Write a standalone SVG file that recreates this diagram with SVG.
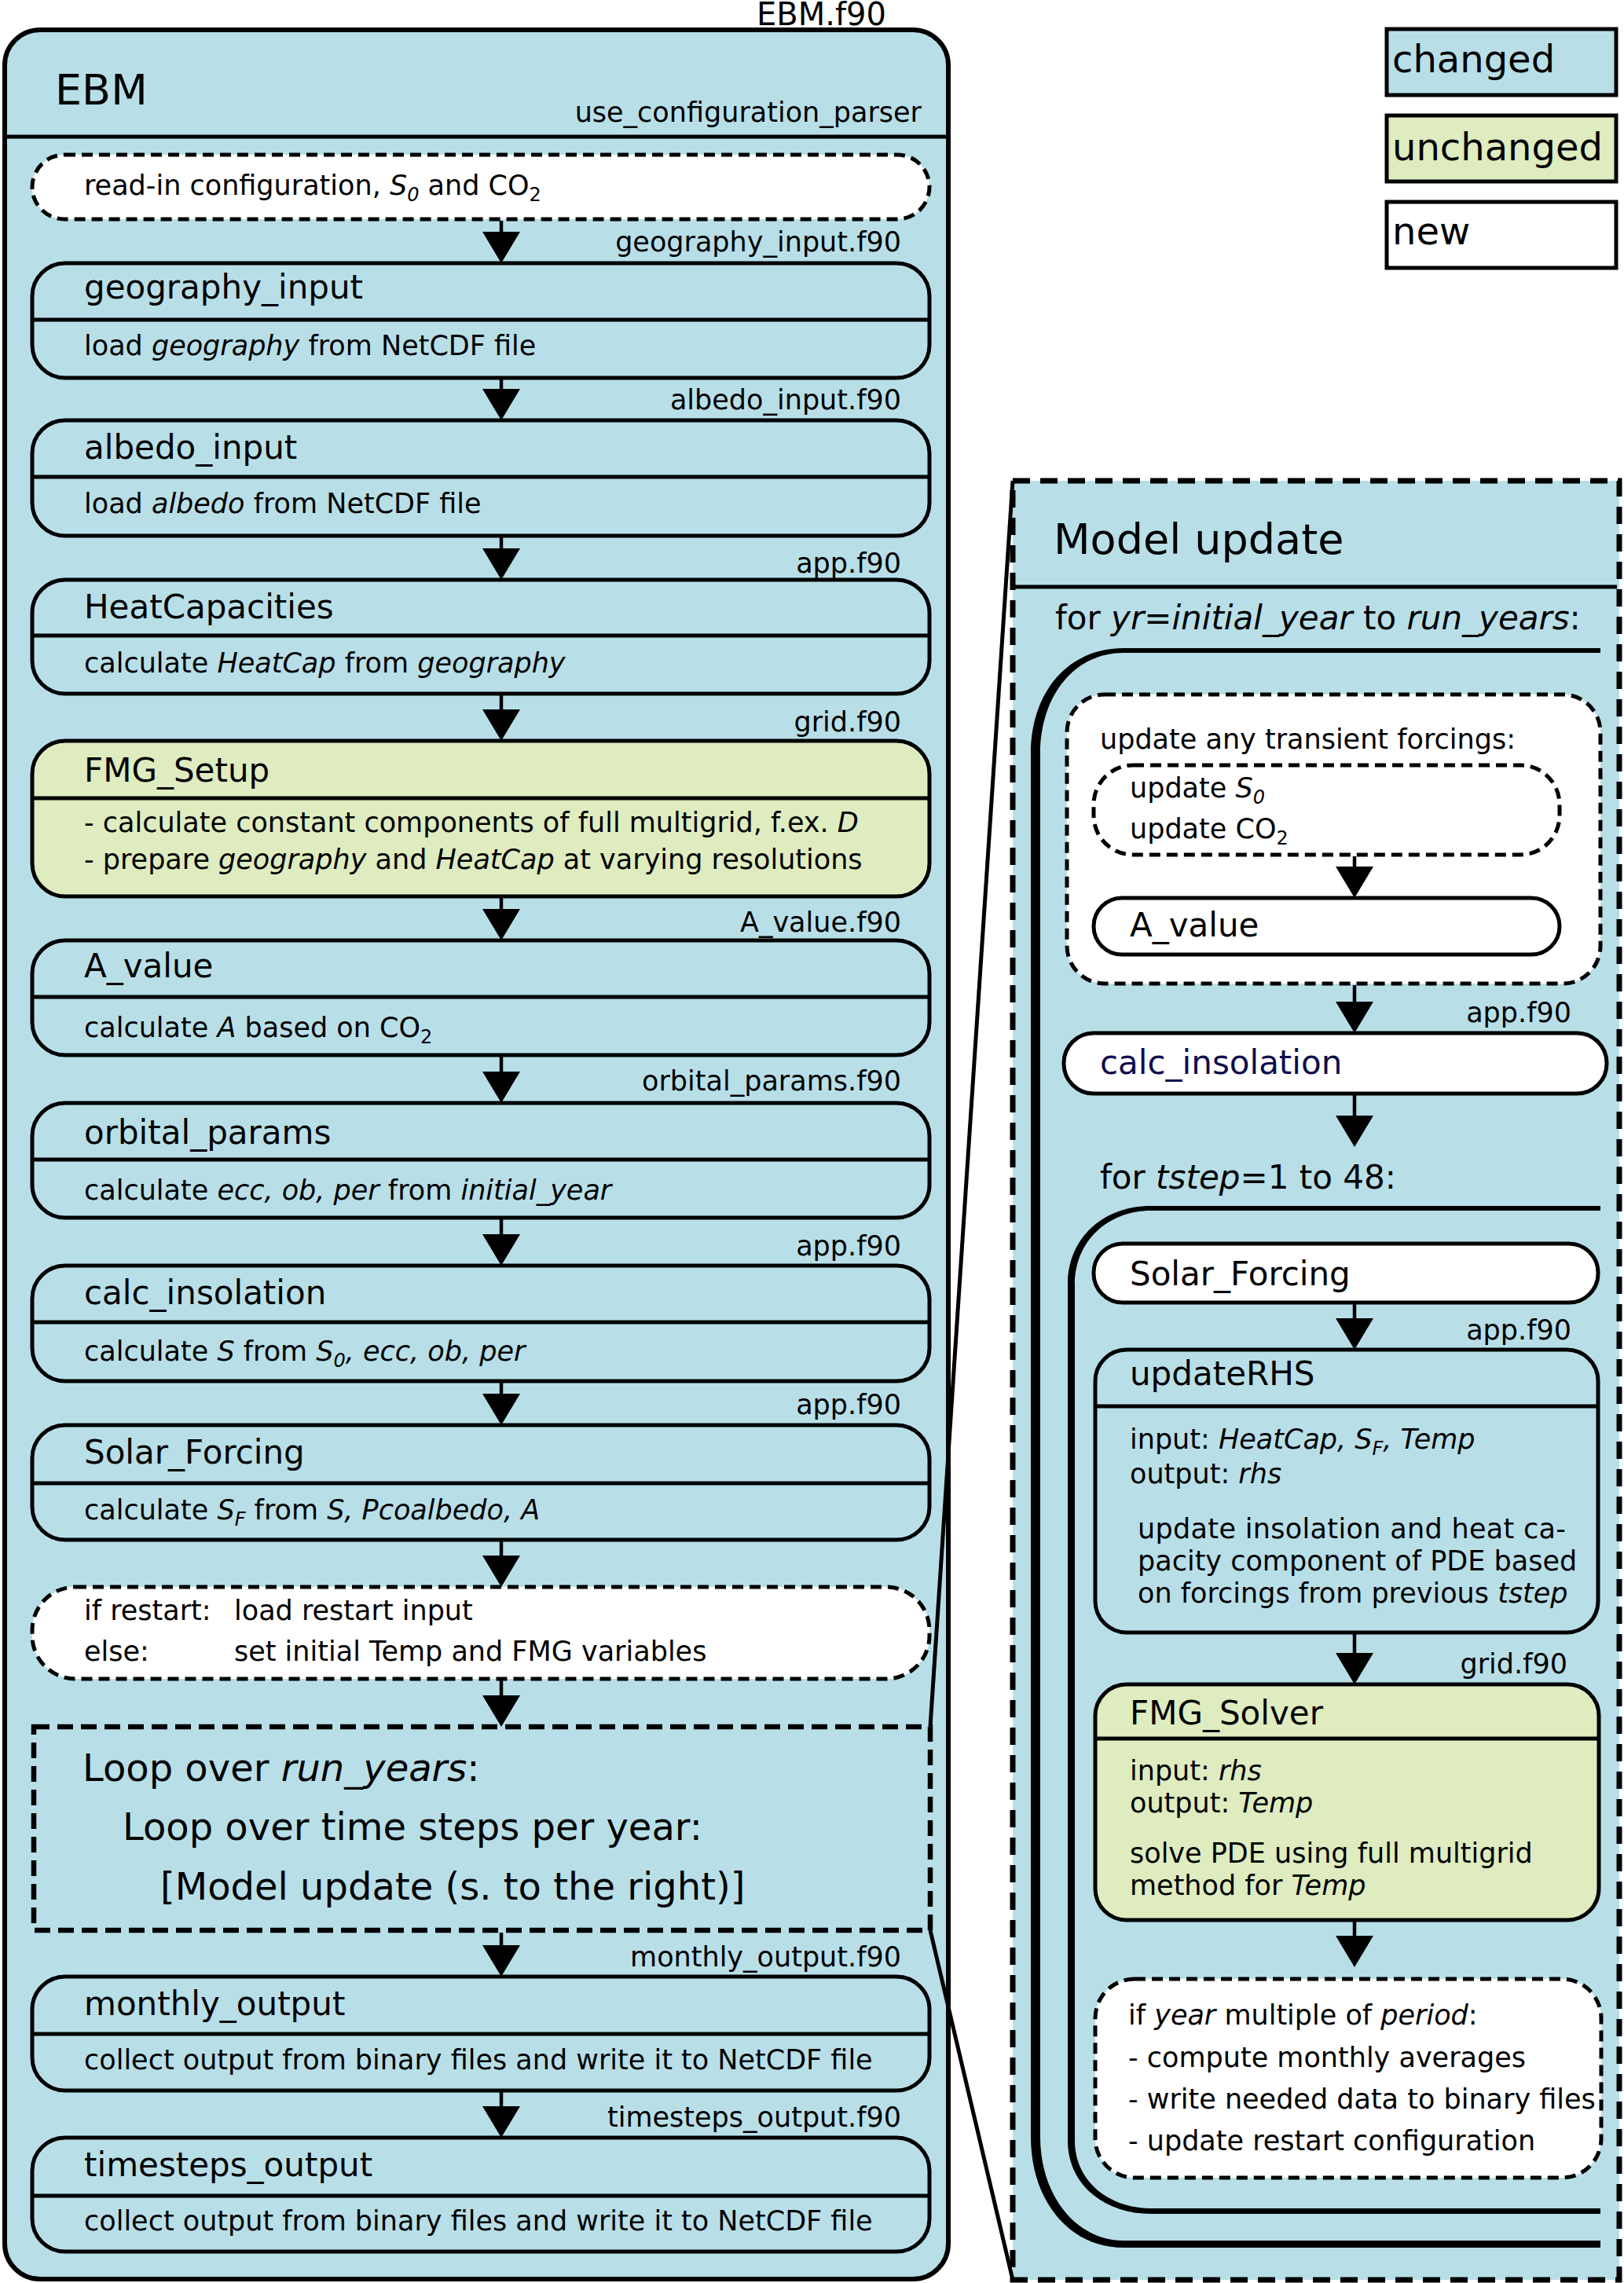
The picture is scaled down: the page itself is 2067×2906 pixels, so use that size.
<svg xmlns="http://www.w3.org/2000/svg" width="2067" height="2906" viewBox="0 0 2067 2906">
<style>
text{font-family:"DejaVu Sans","Liberation Sans",sans-serif;fill:#000}
.t{font-size:42px}
.b{font-size:35px}
.f{font-size:35px;text-anchor:end}
.big{font-size:54px}
.lp{font-size:48px}
.leg{font-size:48px}
.i{font-style:italic}
.s{font-size:24px}
.blue{fill:#b8dfe8}
.green{fill:#deecc0}
.white{fill:#fff}
.box{stroke:#000;stroke-width:5}
.dash{stroke:#000;stroke-width:5;stroke-dasharray:14 8}
.div{stroke:#000;stroke-width:5}
.con{stroke:#000;stroke-width:5;fill:none}
</style>
<defs>
<marker id="ah" markerUnits="userSpaceOnUse" markerWidth="40" markerHeight="48" refX="30" refY="24" orient="auto">
<path d="M0,0 L40,24 L0,48 Z" fill="#000"/>
</marker>
</defs>
<rect width="2067" height="2906" fill="#fff"/>

<!-- Legend -->
<g id="legend">
<rect x="1765" y="37" width="292" height="84" class="blue box"/>
<text x="1772" y="92" class="leg">changed</text>
<rect x="1765" y="147" width="292" height="84" class="green box"/>
<text x="1772" y="204" class="leg">unchanged</text>
<rect x="1765" y="257" width="292" height="84" class="white box"/>
<text x="1772" y="311" class="leg">new</text>
</g>

<!-- EBM main -->
<g id="ebm">
<rect x="6" y="38" width="1201" height="2863" rx="45" class="blue" stroke="#000" stroke-width="6"/>
<line x1="6" y1="174" x2="1207" y2="174" class="div"/>
<text x="70" y="133" class="big">EBM</text>
<text x="1128" y="32" style="font-size:40px;text-anchor:end">EBM.f90</text>
<text x="1173" y="155" class="f">use_configuration_parser</text>
</g>

<!-- Model update panel background -->
<g id="model_update_bg">
<rect x="1289" y="612" width="772" height="2290" class="blue"/>
</g>

<!-- Left nodes -->
<g id="readin">
<rect x="41" y="197" width="1142" height="82" rx="41" class="white dash"/>
<text x="107" y="248" class="b">read-in configuration, <tspan class="i">S</tspan><tspan class="s i" dy="8">0</tspan><tspan dy="-8"> and CO</tspan><tspan class="s" dy="8">2</tspan></text>
</g>

<g id="geography_input">
<text x="1147" y="320" class="f">geography_input.f90</text>
<rect x="41" y="335" width="1142" height="146" rx="42" class="blue box"/>
<line x1="41" y1="407" x2="1183" y2="407" class="div"/>
<text x="107" y="380" class="t">geography_input</text>
<text x="107" y="452" class="b">load <tspan class="i">geography</tspan> from NetCDF file</text>
</g>

<g id="albedo_input">
<text x="1147" y="521" class="f">albedo_input.f90</text>
<rect x="41" y="535" width="1142" height="147" rx="42" class="blue box"/>
<line x1="41" y1="607" x2="1183" y2="607" class="div"/>
<text x="107" y="584" class="t">albedo_input</text>
<text x="107" y="653" class="b">load <tspan class="i">albedo</tspan> from NetCDF file</text>
</g>

<g id="heatcapacities">
<text x="1147" y="729" class="f">app.f90</text>
<rect x="41" y="738" width="1142" height="145" rx="42" class="blue box"/>
<line x1="41" y1="809" x2="1183" y2="809" class="div"/>
<text x="107" y="787" class="t">HeatCapacities</text>
<text x="107" y="856" class="b">calculate <tspan class="i">HeatCap</tspan> from <tspan class="i">geography</tspan></text>
</g>

<g id="fmg_setup">
<text x="1147" y="931" class="f">grid.f90</text>
<rect x="41" y="943" width="1142" height="198" rx="42" class="green box"/>
<line x1="41" y1="1016" x2="1183" y2="1016" class="div"/>
<text x="107" y="995" class="t">FMG_Setup</text>
<text x="107" y="1059" class="b">- calculate constant components of full multigrid, f.ex. <tspan class="i">D</tspan></text>
<text x="107" y="1106" class="b">- prepare <tspan class="i">geography</tspan> and <tspan class="i">HeatCap</tspan> at varying resolutions</text>
</g>

<g id="a_value">
<text x="1147" y="1186" class="f">A_value.f90</text>
<rect x="41" y="1197" width="1142" height="146" rx="42" class="blue box"/>
<line x1="41" y1="1269" x2="1183" y2="1269" class="div"/>
<text x="107" y="1244" class="t">A_value</text>
<text x="107" y="1320" class="b">calculate <tspan class="i">A</tspan> based on CO<tspan class="s" dy="8">2</tspan></text>
</g>

<g id="orbital_params">
<text x="1147" y="1388" class="f">orbital_params.f90</text>
<rect x="41" y="1404" width="1142" height="146" rx="42" class="blue box"/>
<line x1="41" y1="1476" x2="1183" y2="1476" class="div"/>
<text x="107" y="1456" class="t">orbital_params</text>
<text x="107" y="1527" class="b">calculate <tspan class="i">ecc, ob, per</tspan> from <tspan class="i">initial_year</tspan></text>
</g>

<g id="calc_insolation">
<text x="1147" y="1598" class="f">app.f90</text>
<rect x="41" y="1611" width="1142" height="147" rx="42" class="blue box"/>
<line x1="41" y1="1683" x2="1183" y2="1683" class="div"/>
<text x="107" y="1660" class="t">calc_insolation</text>
<text x="107" y="1732" class="b">calculate <tspan class="i">S</tspan> from <tspan class="i">S</tspan><tspan class="s i" dy="8">0</tspan><tspan class="i" dy="-8">, ecc, ob, per</tspan></text>
</g>

<g id="solar_forcing">
<text x="1147" y="1800" class="f">app.f90</text>
<rect x="41" y="1814" width="1142" height="146" rx="42" class="blue box"/>
<line x1="41" y1="1888" x2="1183" y2="1888" class="div"/>
<text x="107" y="1863" class="t">Solar_Forcing</text>
<text x="107" y="1934" class="b">calculate <tspan class="i">S</tspan><tspan class="s i" dy="8">F</tspan><tspan dy="-8"> from </tspan><tspan class="i">S, Pcoalbedo, A</tspan></text>
</g>

<g id="restart">
<rect x="41" y="2020" width="1142" height="117" rx="55" class="white dash"/>
<text x="107" y="2062" class="b">if restart:</text>
<text x="298" y="2062" class="b">load restart input</text>
<text x="107" y="2114" class="b">else:</text>
<text x="298" y="2114" class="b">set initial Temp and FMG variables</text>
</g>

<g id="loop">
<rect x="43" y="2198" width="1141" height="259" fill="none" stroke="#000" stroke-width="6.5" stroke-dasharray="20 10"/>
<text x="105" y="2267" class="lp">Loop over <tspan class="i">run_years</tspan>:</text>
<text x="156" y="2342" class="lp">Loop over time steps per year:</text>
<text x="204" y="2418" class="lp">[Model update (s. to the right)]</text>
</g>

<g id="monthly_output">
<text x="1147" y="2503" class="f">monthly_output.f90</text>
<rect x="41" y="2516" width="1142" height="145" rx="42" class="blue box"/>
<line x1="41" y1="2589" x2="1183" y2="2589" class="div"/>
<text x="107" y="2565" class="t">monthly_output</text>
<text x="107" y="2634" class="b">collect output from binary files and write it to NetCDF file</text>
</g>

<g id="timesteps_output">
<text x="1147" y="2707" class="f">timesteps_output.f90</text>
<rect x="41" y="2721" width="1142" height="145" rx="42" class="blue box"/>
<line x1="41" y1="2795" x2="1183" y2="2795" class="div"/>
<text x="107" y="2770" class="t">timesteps_output</text>
<text x="107" y="2839" class="b">collect output from binary files and write it to NetCDF file</text>
</g>

<!-- Model update panel -->
<g id="model_update">
<rect x="1289" y="612" width="772" height="2290" fill="none" stroke="#000" stroke-width="7" stroke-dasharray="22 13"/>
<line x1="1289" y1="747" x2="2058" y2="747" class="div"/>
<text x="1341" y="705" class="big">Model update</text>
<text x="1343" y="801" style="font-size:42px">for <tspan class="i">yr</tspan>=<tspan class="i">initial_year</tspan> to <tspan class="i">run_years</tspan>:</text>
</g>

<g id="year_loop">
<path d="M2037,825 L1430,825 C1360,825 1312,880 1312,960 L1312,2720 C1312,2800 1360,2861 1430,2861 L2037,2861 L2037,2852 L1430,2852 C1370,2852 1324,2795 1324,2720 L1324,960 C1324,885 1368,831 1430,831 L2037,831 Z" fill="#000"/>
</g>

<g id="transient">
<rect x="1358" y="884" width="679" height="368" rx="48" class="white dash"/>
<text x="1400" y="953" class="b">update any transient forcings:</text>
</g>

<g id="update_s0_co2">
<rect x="1392" y="974" width="593" height="114" rx="50" class="white dash"/>
<text x="1438" y="1015" class="b">update <tspan class="i">S</tspan><tspan class="s i" dy="8">0</tspan></text>
<text x="1438" y="1067" class="b">update CO<tspan class="s" dy="8">2</tspan></text>
</g>

<g id="a_value_r">
<rect x="1392" y="1143" width="593" height="72" rx="36" class="white box"/>
<text x="1438" y="1192" class="t">A_value</text>
</g>

<g id="calc_insolation_r">
<text x="2000" y="1301" class="f">app.f90</text>
<rect x="1354" y="1315" width="691" height="77" rx="38" class="white box"/>
<text x="1400" y="1367" class="t" style="fill:#0d0d4d">calc_insolation</text>
</g>

<text x="1400" y="1513" style="font-size:42px">for <tspan class="i">tstep</tspan>=1 to 48:</text>

<g id="tstep_loop">
<path d="M2037,1535 L1465,1535 C1405,1535 1359,1575 1359,1635 L1359,2725 C1359,2780 1405,2818 1465,2818 L2037,2818 L2037,2811 L1465,2811 C1410,2811 1368,2775 1368,2725 L1368,1635 C1368,1580 1410,1541 1465,1541 L2037,1541 Z" fill="#000"/>
</g>

<g id="solar_forcing_r">
<rect x="1392" y="1583" width="642" height="75" rx="37" class="white box"/>
<text x="1438" y="1636" class="t">Solar_Forcing</text>
</g>

<g id="update_rhs">
<text x="2000" y="1705" class="f">app.f90</text>
<rect x="1394" y="1718" width="640" height="360" rx="40" class="blue box"/>
<line x1="1394" y1="1790" x2="2034" y2="1790" class="div"/>
<text x="1438" y="1763" class="t">updateRHS</text>
<text x="1438" y="1844" class="b">input: <tspan class="i">HeatCap, S</tspan><tspan class="s i" dy="8">F</tspan><tspan class="i" dy="-8">, Temp</tspan></text>
<text x="1438" y="1888" class="b">output: <tspan class="i">rhs</tspan></text>
<text x="1448" y="1958" class="b" textLength="545" lengthAdjust="spacing">update insolation and heat ca-</text>
<text x="1448" y="1999" class="b">pacity component of PDE based</text>
<text x="1448" y="2040" class="b">on forcings from previous <tspan class="i">tstep</tspan></text>
</g>

<g id="fmg_solver">
<text x="1995" y="2130" class="f">grid.f90</text>
<rect x="1394" y="2144" width="641" height="300" rx="40" class="green box"/>
<line x1="1394" y1="2213" x2="2035" y2="2213" class="div"/>
<text x="1438" y="2195" class="t">FMG_Solver</text>
<text x="1438" y="2266" class="b">input: <tspan class="i">rhs</tspan></text>
<text x="1438" y="2307" class="b">output: <tspan class="i">Temp</tspan></text>
<text x="1438" y="2371" class="b">solve PDE using full multigrid</text>
<text x="1438" y="2412" class="b">method for <tspan class="i">Temp</tspan></text>
</g>

<g id="if_year">
<rect x="1394" y="2519" width="644" height="253" rx="50" class="white dash"/>
<text x="1436" y="2577" class="b">if <tspan class="i">year</tspan> multiple of <tspan class="i">period</tspan>:</text>
<text x="1436" y="2631" class="b">- compute monthly averages</text>
<text x="1436" y="2684" class="b">- write needed data to binary files</text>
<text x="1436" y="2737" class="b">- update restart configuration</text>
</g>

<!-- connectors -->
<g id="connectors">
<line x1="1184" y1="2198" x2="1289" y2="612" class="con"/>
<line x1="1184" y1="2457" x2="1289" y2="2902" class="con"/>
<g stroke="#000" stroke-width="4.5" marker-end="url(#ah)">
<line x1="638" y1="281" x2="638" y2="325"/>
<line x1="638" y1="483" x2="638" y2="525"/>
<line x1="638" y1="684" x2="638" y2="728"/>
<line x1="638" y1="885" x2="638" y2="933"/>
<line x1="638" y1="1143" x2="638" y2="1187"/>
<line x1="638" y1="1345" x2="638" y2="1394"/>
<line x1="638" y1="1552" x2="638" y2="1601"/>
<line x1="638" y1="1760" x2="638" y2="1804"/>
<line x1="638" y1="1962" x2="638" y2="2010"/>
<line x1="638" y1="2139" x2="638" y2="2188"/>
<line x1="638" y1="2460" x2="638" y2="2506"/>
<line x1="638" y1="2663" x2="638" y2="2711"/>
<line x1="1724" y1="1090" x2="1724" y2="1133"/>
<line x1="1724" y1="1254" x2="1724" y2="1305"/>
<line x1="1724" y1="1394" x2="1724" y2="1450"/>
<line x1="1724" y1="1660" x2="1724" y2="1708"/>
<line x1="1724" y1="2080" x2="1724" y2="2134"/>
<line x1="1724" y1="2446" x2="1724" y2="2494"/>
</g>
</g>
</svg>
